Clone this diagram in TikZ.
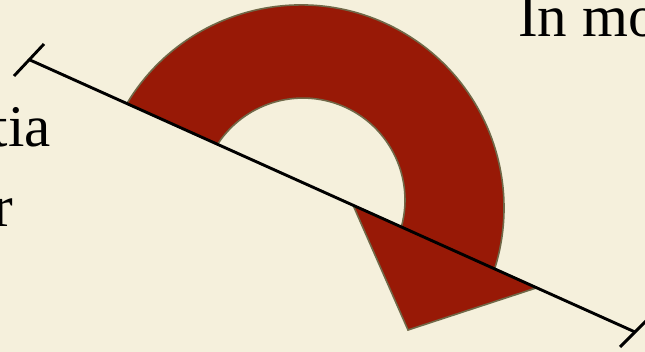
\documentclass[tikz,border=0pt]{standalone}
\usepackage{fontspec}
\setmainfont{Liberation Serif}
\usetikzlibrary{calc}
\definecolor{bgcream}{RGB}{245,240,220}
\definecolor{arrowred}{RGB}{152,25,6}
\definecolor{oliveedge}{RGB}{112,104,72}
\begin{document}
\begin{tikzpicture}[x=1pt,y=1pt,
  txt/.style={font=\fontsize{59}{70}\selectfont, inner sep=0pt, text=black},
  rule/.style={line width=2.9pt, draw=black},
  bigarrow/.style={fill=arrowred, draw=oliveedge, line width=1.6pt, line join=miter}]
\useasboundingbox (0,0) rectangle (645,352);
\fill[bgcream] (0,0) rectangle (645,352);
\clip (0,0) rectangle (645,352);

% texts
\node[txt, anchor=base east] (tia) at (51,205.5) {tia};
\node[txt, anchor=base west] (r) at (-7,125) {r};
\node[txt, anchor=base west] (inmo) at (518,315) {In mo};

% curved arrow
\path[bigarrow] (127.0,248.6)
  arc[start angle=149, end angle=-17.4, radius=203]
  -- (537,64.3) -- (408,22) -- (353,146.9) -- (401.4,125.2)
  arc[start angle=-15.2, end angle=146.8, radius=102]
  -- cycle;

% axis line with end ticks
\coordinate (A) at (30,292);
\coordinate (B) at (635,20);
\draw[rule] (A) -- (B);
\draw[rule] ($(A)+(-16,-16)$) -- ($(A)+(14,16)$);
\draw[rule] ($(B)+(-15,-15)$) -- ($(B)+(15,15)$);
\end{tikzpicture}
\end{document}
